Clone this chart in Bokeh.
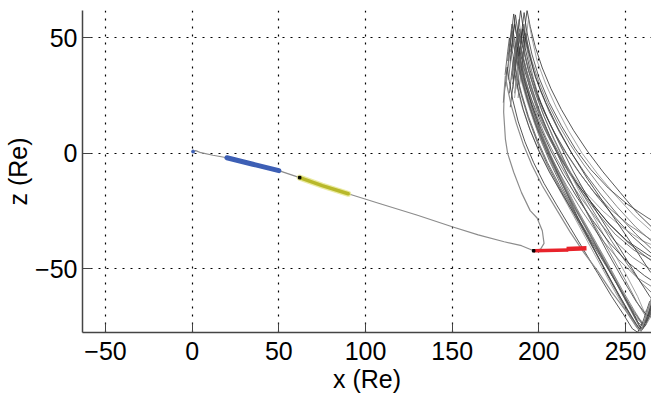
from bokeh.plotting import figure
from bokeh.models import Range1d, FixedTicker
from bokeh.embed import file_html
from bokeh.resources import INLINE

# ---- data (Re units) ----
traj_x = [0, 2, 5, 12, 20, 35, 50, 62, 75, 90, 108, 130, 150, 165, 180, 190, 197,
          201, 203, 202, 199, 195, 190, 185.5, 182, 180.7, 179.7, 180, 180.7,
          182, 184, 187, 191, 196, 202, 210.6, 218, 226, 234, 242, 250, 256.8, 259, 262, 266]
traj_z = [0.5, 1.2, 0.3, -0.8, -1.9, -4.7, -7.5, -10.5, -14, -17.5, -21.7, -26.8, -31.8, -35.3, -38.3, -40, -42.2,
          -41.5, -39, -33.5, -28, -24.8, -17, -8.2, 0, 6.2, 17.8, 27, 33.7,
          28, 21, 13, 4, -5, -14, -24.8, -34, -43, -51, -60, -68, -75.5, -77, -70, -60]

blue_x = [20, 35, 50]
blue_z = [-1.9, -4.7, -7.5]
yellow_x = [62, 75, 90]
yellow_z = [-10.5, -14, -17.5]
red1_x = [197, 217]
red1_z = [-42.2, -41.9]
red2_x = [216, 227.5]
red2_z = [-41.4, -41.1]
mark_x = [62, 197]
mark_z = [-10.5, -42.2]
origin_x = [0.5]
origin_z = [0.8]

strands_x = [
    [190.7, 192.2, 193.2, 195, 198, 202, 207, 213, 220, 228, 237, 247, 257, 268],
    [188.8, 190.3, 191.3, 193, 196, 200, 205, 211, 218, 226, 235, 245, 256, 268],
    [186.5, 188, 189, 191, 194, 198, 203, 209, 216, 224, 233, 243, 254, 266],
    [191.5, 193, 194, 196, 199, 204, 210, 217, 225, 234, 244, 255, 267],
    [184.5, 186, 187, 189, 192, 196, 201, 207, 214, 222, 231, 241, 252, 264, 270],
    [187.5, 189, 190, 192, 195, 199, 204, 210, 217, 225, 234, 244, 255, 267],
    [183.5, 185, 186, 188, 191, 195, 200, 206, 213, 221, 230, 240, 251, 263, 270],
    [189.5, 191, 192, 194, 197, 201, 207, 214, 222, 231, 241, 252, 264, 270],
    [183, 184.5, 185.5, 187, 189, 192, 196, 201, 207, 214, 222, 231, 240, 249, 256, 259, 262, 266, 270],
    [181, 182.6, 183.6, 185, 187, 190, 194, 199, 205, 212, 220, 228, 236, 244, 251, 256, 258, 261, 265, 270],
    [183, 184.5, 185.5, 187, 190, 194, 199, 205, 212, 220, 229, 238, 246, 253, 258, 260, 263, 267],
    [182, 183.6, 184.6, 186, 189, 193, 198, 204, 211, 219, 228, 237, 245, 252, 257, 260, 264, 268],
    [179.5, 180.8, 181.7, 183, 185, 188, 192, 197, 203, 210, 218, 226, 234, 242, 249, 254, 257, 260, 264],
    [184.5, 186, 187, 189, 192, 196, 201, 207, 214, 222, 231, 240, 248, 255, 260, 263, 267],
    [183.5, 185, 186, 188, 191, 195, 200, 206, 213, 221, 230, 239, 248, 255, 259, 262, 266],
    [186, 187.5, 188.5, 190, 193, 197, 202, 208, 215, 223, 232, 241, 250, 257, 261, 264, 268],
    [180.5, 182, 183, 185, 187, 190, 194, 199, 205, 212, 220, 229, 238, 246, 253, 258, 261, 264, 268],
    [186.5, 188, 189, 191, 194, 198, 203, 209, 216, 224, 233, 242, 251, 259, 266],
    [185, 186.5, 187.5, 189, 192, 196, 201, 207, 214, 222, 231, 241, 251, 261, 269],
    [188, 189.5, 190.5, 192, 195, 199, 204, 210, 217, 225, 234, 244, 254, 264, 270],
    [189, 190.5, 191.5, 193, 196, 200, 206, 213, 221, 230, 240, 251, 263, 270],
    [187, 188.5, 189.5, 191, 194, 198, 203, 210, 218, 227, 237, 248, 260, 270],
    [182, 183.5, 184.5, 186, 188, 191, 195, 200, 206, 213, 221, 230, 239, 247, 254, 259, 262, 265, 269],
    [185, 186.5, 187.5, 189, 192, 196, 201, 207, 214, 222, 231, 240, 249, 256, 261, 265, 269],
    [188, 189.5, 190.5, 192, 195, 199, 205, 212, 220, 229, 239, 249, 258, 264, 268],
    [186, 187.5, 188.5, 190, 193, 197, 202, 208, 216, 225, 235, 246, 257, 268],
    [184, 185.5, 186.5, 188, 191, 195, 200, 206, 213, 221, 230, 239, 248, 256, 262, 268],
    [186, 187.3, 188.2, 190, 193, 197, 202, 209, 217, 226, 235, 244, 252, 258, 262, 266],
    [190, 191.5, 192.5, 194, 197, 201, 206, 212, 219, 227, 236, 246, 256, 266],
    [182.5, 184, 185, 187, 190, 194, 199, 205, 212, 220, 229, 238, 247, 255, 260, 264, 268],
    [187, 188.5, 189.5, 191, 194, 198, 204, 211, 219, 228, 238, 248, 257, 264, 269],
    [185.5, 187, 188, 190, 193, 197, 202, 208, 215, 223, 232, 241, 250, 257, 262, 266],
]
strands_z = [
    [46, 56, 62, 55, 46, 37, 28, 19, 10, 1, -8, -17, -26, -34],
    [40, 50, 56, 49, 40, 31, 22, 13, 4, -5, -14, -23, -32, -40],
    [36, 46, 52, 45, 36, 27, 18, 9, 0, -9, -18, -27, -36, -44],
    [42, 52, 58, 50, 40, 30, 20, 10, 0, -9, -18, -27, -35],
    [32, 42, 48, 41, 32, 23, 14, 5, -4, -13, -22, -31, -39, -46, -49],
    [28, 38, 44, 37, 28, 19, 10, 1, -8, -17, -26, -35, -42, -47],
    [40, 50, 56, 48, 38, 28, 18, 8, -2, -12, -21, -30, -38, -44, -47],
    [34, 44, 50, 42, 32, 22, 12, 2, -7, -16, -24, -31, -37, -39],
    [44, 54, 60.4, 52, 42, 31, 20, 9, -2, -14, -27, -40, -53, -65, -74, -77, -72, -63, -56],
    [29, 39, 45.3, 38, 30, 21, 12, 3, -6, -16, -27, -38, -49, -60, -69, -75, -77, -73, -64, -55],
    [26, 36, 41.6, 35, 26, 16, 6, -4, -14, -25, -36, -47, -58, -68, -75, -76, -70, -60],
    [37, 47, 53.2, 45, 35, 24, 13, 2, -9, -21, -33, -45, -56, -66, -73, -75, -68, -58],
    [22, 31, 37.3, 31, 23, 14, 5, -4, -13, -22, -32, -42, -52, -62, -70, -76, -77.5, -73, -64],
    [34, 44, 50, 42, 32, 21, 10, -1, -12, -24, -36, -48, -59, -68, -74, -72, -64],
    [20, 29, 35, 28, 19, 10, 1, -8, -17, -27, -38, -49, -60, -70, -76, -73, -65],
    [42, 52, 58, 50, 40, 29, 18, 7, -4, -16, -28, -40, -52, -62, -69, -66, -58],
    [34, 44, 50, 43, 34, 25, 15, 5, -5, -15, -26, -38, -50, -61, -70, -76, -75, -68, -60],
    [38, 48, 54, 46, 36, 26, 16, 6, -5, -16, -27, -38, -48, -56, -61],
    [30, 40, 46, 39, 30, 21, 11, 1, -9, -19, -29, -39, -47, -53, -57],
    [24, 34, 40, 33, 25, 16, 7, -2, -11, -20, -29, -38, -45, -50, -52],
    [44, 55, 61, 53, 43, 33, 22, 12, 2, -7, -15, -22, -28, -31],
    [30, 40, 46, 40, 31, 22, 12, 2, -8, -17, -25, -32, -38, -41],
    [40, 50, 56, 49, 40, 30, 19, 8, -3, -14, -26, -39, -52, -63, -72, -77, -74, -66, -57],
    [28, 38, 44, 37, 28, 18, 8, -2, -13, -25, -37, -50, -62, -71, -75, -69, -60],
    [38, 48, 54, 46, 36, 26, 15, 4, -8, -20, -32, -44, -55, -62, -65],
    [26, 36, 42, 35, 26, 17, 7, -3, -14, -25, -36, -46, -54, -59],
    [44, 54, 60, 52, 41, 30, 19, 8, -4, -16, -29, -42, -54, -64, -70, -72],
    [24, 32, 37, 31, 23, 14, 4, -7, -18, -30, -42, -54, -65, -72, -74, -69],
    [36, 46, 52, 45, 36, 27, 18, 9, 0, -9, -18, -27, -35, -42],
    [32, 42, 48, 41, 32, 22, 11, 0, -11, -23, -35, -47, -59, -69, -74, -70, -62],
    [46, 56, 62, 54, 44, 33, 22, 11, 0, -11, -22, -33, -43, -51, -55],
    [36, 46, 52, 45, 36, 26, 15, 4, -7, -19, -31, -43, -55, -65, -71, -70],
]
strand_colors = ["#2e2e2e", "#6a6a6a", "#3c3c3c", "#8e8e8e", "#4a4a4a", "#5a5a5a"]

x_ticks = [-50, 0, 50, 100, 150, 200, 250]
z_ticks = [-50, 0, 50]

FONT = "Liberation Sans"

p = figure(width=651, height=407, output_backend="svg", toolbar_location=None,
           x_range=Range1d(-63.3, 265), y_range=Range1d(-77.6, 61.9),
           min_border_left=82, min_border_right=0, min_border_top=10, min_border_bottom=75)
p.outline_line_color = None
p.background_fill_color = "white"

for ax, ticks in ((p.xaxis[0], x_ticks), (p.yaxis[0], z_ticks)):
    ax.ticker = FixedTicker(ticks=ticks)
    ax.major_tick_in = 9
    ax.major_tick_out = 0
    ax.minor_tick_line_color = None
    ax.axis_line_color = "#444444"
    ax.axis_line_width = 1.5
    ax.major_tick_line_color = "#444444"
    ax.major_label_text_font = FONT
    ax.major_label_text_font_size = "25px"
    ax.major_label_text_color = "black"
    ax.axis_label_text_font = FONT
    ax.axis_label_text_font_size = "25px"
    ax.axis_label_text_font_style = "normal"
    ax.axis_label_text_color = "black"

p.xaxis.axis_label = "x (Re)"
p.yaxis.axis_label = "z (Re)"
p.xaxis.major_label_standoff = 9
p.xaxis.axis_label_standoff = 2
p.yaxis.major_label_standoff = 5
p.yaxis.axis_label_standoff = 0

for g in (p.xgrid[0], p.ygrid[0]):
    g.grid_line_color = "black"
    g.grid_line_dash = "2 6"
    g.grid_line_width = 1.2
p.xgrid.ticker = FixedTicker(ticks=x_ticks)
p.ygrid.ticker = FixedTicker(ticks=z_ticks)

cols = [strand_colors[i % len(strand_colors)] for i in range(len(strands_x))]
p.multi_line(xs=strands_x, ys=strands_z, line_color=cols, line_width=0.9, line_alpha=0.9)

p.line(traj_x, traj_z, line_color="#8c8c8c", line_width=1.2)

p.line(blue_x, blue_z, line_color="#3d5fb5", line_width=5, line_cap="round")
p.line(yellow_x, yellow_z, line_color="#e2e27a", line_width=6, line_alpha=0.7, line_cap="round")
p.line(yellow_x, yellow_z, line_color="#b8b82a", line_width=3.5, line_cap="round")
p.line(red1_x, red1_z, line_color="#e8232b", line_width=3.5)
p.line(red2_x, red2_z, line_color="#e8232b", line_width=4.5)
p.scatter(mark_x, mark_z, marker="square", size=2.5, color="black")
p.scatter(origin_x, origin_z, marker="circle", size=3, color="#3d5fb5")

open("out.html", "w").write(file_html(p, INLINE))
